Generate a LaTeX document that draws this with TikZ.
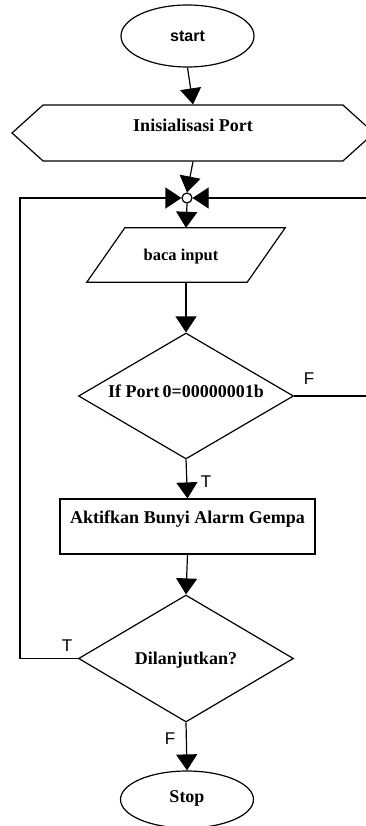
\documentclass[tikz,border=0pt]{standalone}
\usepackage{fontspec}
\setmainfont{Liberation Serif}
\newfontfamily\arialf{Liberation Sans}
\usetikzlibrary{shapes.geometric,shapes.symbols,arrows.meta}
\begin{document}
\begin{tikzpicture}[x=1pt,y=-1pt,
  shp/.style={draw,line width=1.2pt,inner sep=0pt},
  flow/.style={line width=1.2pt,-{Triangle[width=21pt,length=16pt]}},
  conn/.style={line width=1.2pt},
  lab/.style={font=\fontsize{18}{20}\selectfont\bfseries},
  tf/.style={font=\arialf\fontsize{17}{19}\selectfont}]
\useasboundingbox (0,0) rectangle (366,826);
\clip (0,0) rectangle (366,826);
\fill[white] (0,0) rectangle (366,826);
% nodes
\node[shp,ellipse,minimum width=133pt,minimum height=62pt,
  label={[font=\arialf\bfseries\fontsize{16}{18}\selectfont]center:start}] (start) at (187.5,36) {};
\node[shp,signal,signal to=west and east,signal pointer angle=84,
  minimum width=362pt,minimum height=56pt,
  label={[lab,yshift=8pt]center:Inisialisasi Port}] (init) at (193,133) {};
\node[shp,circle,minimum size=10pt] (j) at (187,198) {};
\node[inner sep=0pt,minimum width=160pt,minimum height=54pt,
  label={[font=\fontsize{16.5}{18}\selectfont\bfseries,xshift=-5pt,yshift=-2pt]center:baca input}] (baca) at (186,255) {};
\draw[conn] ([xshift=19pt]baca.north west) -- ([xshift=19pt]baca.north east)
  -- ([xshift=-19pt]baca.south east) -- ([xshift=-19pt]baca.south west) -- cycle;
\node[shp,diamond,minimum width=215pt,minimum height=126pt,
  label={[lab,yshift=5pt]center:If Port\,0=00000001b}] (d1) at (186,396) {};
\node[shp,rectangle,minimum width=255pt,minimum height=55pt,
  label={[lab,yshift=7pt]center:Aktifkan Bunyi Alarm Gempa}] (alarm) at (187.5,526.5) {};
\node[shp,diamond,minimum width=215pt,minimum height=127pt,
  label={[lab,yshift=-2pt]center:Dilanjutkan?}] (d2) at (186,658.5) {};
\node[shp,ellipse,minimum width=133pt,minimum height=57pt,
  label={[lab,yshift=1pt]center:Stop}] (stop) at (187,799.5) {};
% corner coordinates
\coordinate (lb) at (20,658.5);
\coordinate (lt) at (20,198);
\coordinate (rb) at (378,396);
\coordinate (rt) at (378,198);
% connectors
\draw[flow] (start.south) -- (init.north);
\draw[flow] (init.south) -- (j.north);
\draw[flow] (d2.west) -- (lb) -- (lt) -- (j.west);
\draw[flow] (d1.east) -- (rb) -- (rt) -- (j.east);
\draw[flow] (j.south) -- (baca.north);
\draw[flow] (baca.south) -- (d1.north);
\draw[flow] (d1.south) -- (alarm.north);
\draw[flow] (alarm.south) -- (d2.north);
\draw[flow] (d2.south) -- (stop.north);
% branch labels
\node[tf] (fd1) at (309,379) {F};
\node[tf] (td1) at (206,482) {T};
\node[tf] (td2) at (67,646) {T};
\node[tf] (fd2) at (170,739) {F};
\end{tikzpicture}
\end{document}
